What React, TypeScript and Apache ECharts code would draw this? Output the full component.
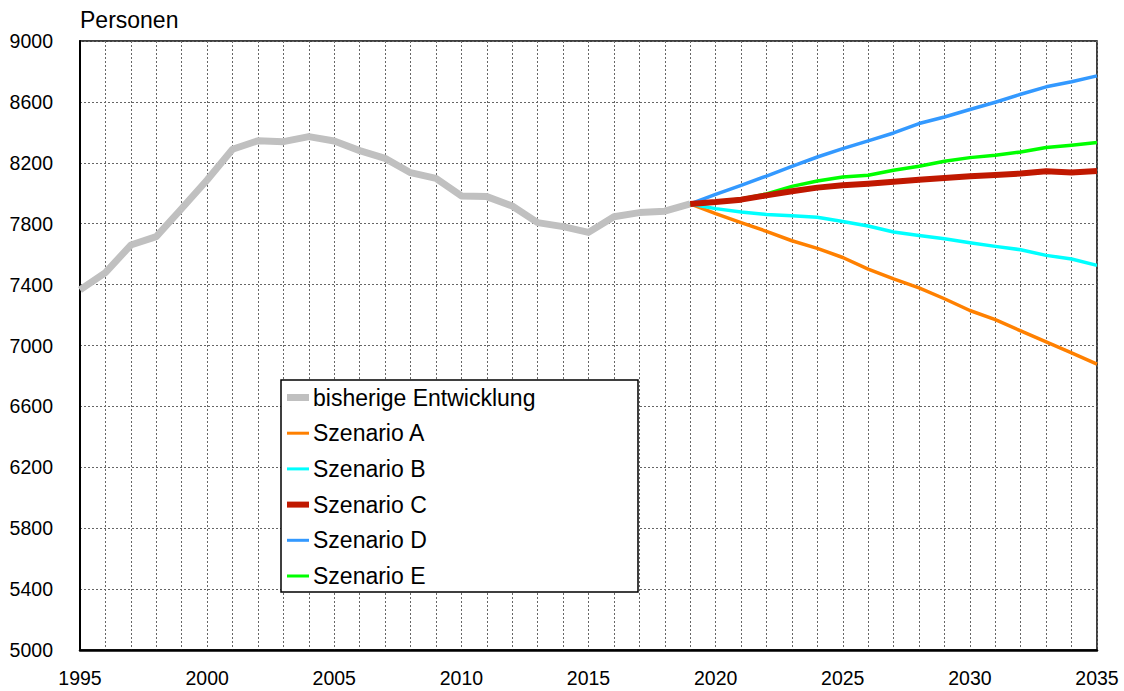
import React, { useEffect, useRef } from "react";
import * as echarts from "echarts";

const histYears = [1995, 1996, 1997, 1998, 1999, 2000, 2001, 2002, 2003, 2004, 2005, 2006, 2007, 2008, 2009, 2010, 2011, 2012, 2013, 2014, 2015, 2016, 2017, 2018, 2019];
const histValues = [7365, 7478, 7660, 7715, 7900, 8087, 8289, 8345, 8339, 8372, 8343, 8280, 8229, 8135, 8098, 7982, 7978, 7916, 7807, 7781, 7743, 7846, 7873, 7882, 7930];

const scenYears = [2019, 2020, 2021, 2022, 2023, 2024, 2025, 2026, 2027, 2028, 2029, 2030, 2031, 2032, 2033, 2034, 2035];
const scenA = [7930, 7866, 7807, 7750, 7688, 7638, 7578, 7502, 7437, 7378, 7307, 7230, 7170, 7096, 7024, 6952, 6878];
const scenB = [7930, 7899, 7877, 7861, 7853, 7842, 7815, 7785, 7745, 7723, 7701, 7675, 7651, 7629, 7592, 7568, 7526];
const scenC = [7930, 7942, 7958, 7986, 8013, 8037, 8052, 8063, 8076, 8089, 8100, 8111, 8120, 8129, 8144, 8137, 8146];
const scenD = [7930, 7993, 8052, 8113, 8177, 8238, 8293, 8344, 8396, 8458, 8501, 8550, 8598, 8650, 8699, 8732, 8771];
const scenE = [7930, 7945, 7962, 7995, 8045, 8080, 8107, 8118, 8151, 8177, 8210, 8234, 8249, 8271, 8300, 8315, 8333];

const seriesNames = ["bisherige Entwicklung", "Szenario A", "Szenario B", "Szenario C", "Szenario D", "Szenario E"];

const FONT = "Liberation Sans, Arial, sans-serif";

const THICK_ICON = "path://M0,0H22V7H0Z";
const MID_ICON = "path://M0,0H22V6H0Z";
const THIN_ICON = "path://M0,0H22V3H0Z";

function pairs(xs: number[], ys: number[]) {
  return xs.map((x, i) => [x, ys[i]]);
}

export default function App() {
  const ref = useRef<HTMLDivElement>(null);
  useEffect(() => {
    if (!ref.current) return;
    const chart = echarts.init(ref.current, undefined, { renderer: "svg" });
    const mk = (name: string, data: number[][], color: string, width: number, z: number) => ({
      name,
      type: "line",
      data,
      symbol: "none",
      showSymbol: false,
      z,
      lineStyle: { color, width, join: "round" },
      itemStyle: { color },
    });
    chart.setOption({
      animation: false,
      backgroundColor: "#ffffff",
      grid: {
        left: 80,
        top: 41,
        right: 27,
        bottom: 41,
        show: true,
        borderColor: "#000",
        borderWidth: 1.5,
        backgroundColor: "transparent",
      },
      xAxis: {
        type: "value",
        min: 1995,
        max: 2035,
        interval: 1,
        axisLine: { show: true, lineStyle: { color: "#000", width: 2.5 } },
        axisTick: { show: false },
        splitLine: { show: true, lineStyle: { color: "#666", width: 1, type: [2, 2] } },
        axisLabel: {
          margin: 18,
          fontFamily: FONT,
          fontSize: 19.5,
          color: "#000",
          showMinLabel: true,
          showMaxLabel: true,
          formatter: (v: number) => (v % 5 === 0 ? String(v) : ""),
        },
      },
      yAxis: {
        type: "value",
        min: 5000,
        max: 9000,
        interval: 400,
        axisLine: { show: true, lineStyle: { color: "#000", width: 2 } },
        axisTick: { show: false },
        splitLine: { show: true, lineStyle: { color: "#666", width: 1, type: [2, 2] } },
        axisLabel: {
          margin: 27,
          fontFamily: FONT,
          fontSize: 19.5,
          color: "#000",
          formatter: (v: number) => String(v),
        },
      },
      legend: {
        orient: "vertical",
        left: 287,
        top: 386,
        padding: 0,
        z: 6,
        itemWidth: 22,
        itemHeight: 14,
        itemGap: 12.7,
        symbolKeepAspect: true,
        data: [
          { name: seriesNames[0], icon: THICK_ICON },
          { name: seriesNames[1], icon: THIN_ICON },
          { name: seriesNames[2], icon: THIN_ICON },
          { name: seriesNames[3], icon: MID_ICON },
          { name: seriesNames[4], icon: THIN_ICON },
          { name: seriesNames[5], icon: THIN_ICON },
        ],
        textStyle: { fontFamily: FONT, fontSize: 23, color: "#000", lineHeight: 22, padding: [0, 0, 0, -1] },
      },
      graphic: [
        {
          type: "rect",
          shape: { x: 281, y: 380, width: 357, height: 212 },
          style: { fill: "#fff", stroke: "#000", lineWidth: 1.5 },
          z: 1,
        },
        {
          type: "text",
          x: 80,
          y: 20,
          style: { text: "Personen", font: `23px ${FONT}`, fill: "#000", verticalAlign: "middle", align: "left" },
        },
      ],
      series: [
        mk(seriesNames[0], pairs(histYears, histValues), "#C0C0C0", 7, 2),
        mk(seriesNames[1], pairs(scenYears, scenA), "#FF8000", 3.5, 3),
        mk(seriesNames[2], pairs(scenYears, scenB), "#00FFFF", 3.5, 3),
        mk(seriesNames[4], pairs(scenYears, scenD), "#3399FF", 3.5, 3),
        mk(seriesNames[5], pairs(scenYears, scenE), "#00FF00", 3.5, 3),
        mk(seriesNames[3], pairs(scenYears, scenC), "#C01800", 6, 4),
      ],
    });
    return () => chart.dispose();
  }, []);
  return <div ref={ref} style={{ position: "absolute", left: 0, top: 0, width: 1124, height: 691 }} />;
}
